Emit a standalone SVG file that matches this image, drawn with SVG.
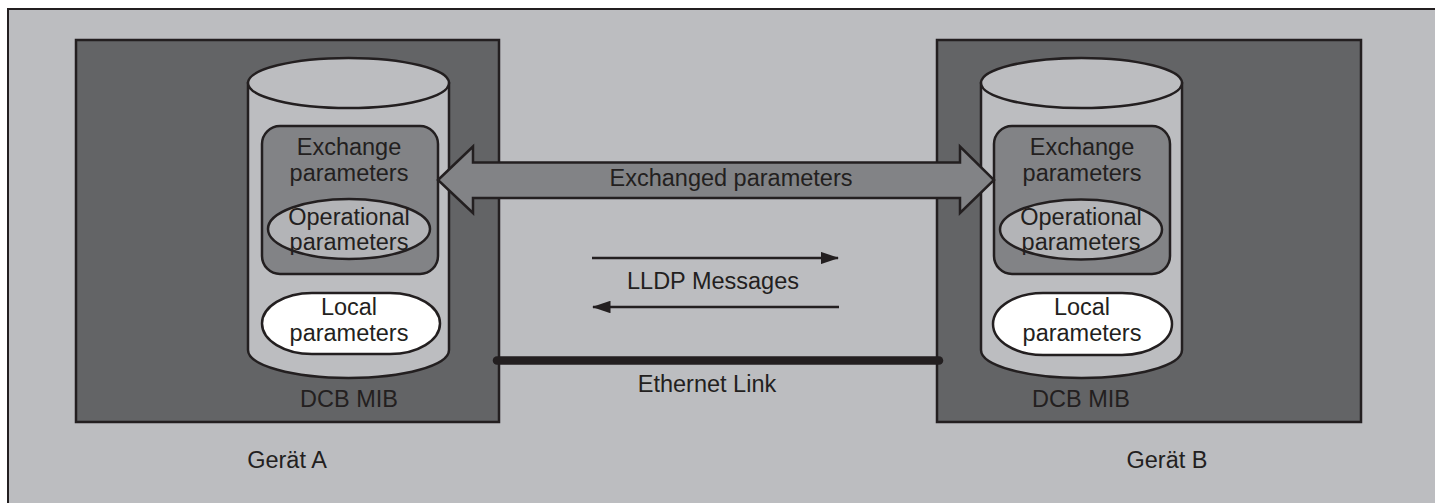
<svg xmlns="http://www.w3.org/2000/svg" width="1435" height="503" viewBox="0 0 1435 503">
  <style>
    .lbl { font-family: "Liberation Sans", Arial, Helvetica, sans-serif; font-size: 23.5px; fill: #231f20; text-anchor: middle; }
    .device { fill: #636466; stroke: #231f20; stroke-width: 2.5; }
    .cyl { fill: #bcbdc0; stroke: #231f20; stroke-width: 2.5; }
    .xchg { fill: #828386; stroke: #231f20; stroke-width: 2.5; }
    .oper { fill: #b3b4b7; stroke: #231f20; stroke-width: 2.5; }
    .local { fill: #ffffff; stroke: #231f20; stroke-width: 2.5; }
    .fat { fill: #828386; stroke: #231f20; stroke-width: 2.5; stroke-linejoin: miter; }
    .msg { stroke: #231f20; stroke-width: 2.5; fill: none; }
  </style>
  <defs>
    <!-- filled triangular head, about 18 x 12 px at a 2.5 px stroke -->
    <marker id="head" viewBox="0 0 15 10" refX="14" refY="5" markerWidth="7.5" markerHeight="5" markerUnits="strokeWidth" orient="auto-start-reverse">
      <path d="M0,0 L15,5 L0,10 Z" fill="#231f20"/>
    </marker>
  </defs>

  <!-- frame -->
  <rect x="8" y="9" width="1440" height="500" fill="#bcbdc0" stroke="#231f20" stroke-width="2"/>

  <!-- device A -->
  <g id="device-a">
    <rect class="device" x="76" y="40" width="423" height="382"/>
    <text class="lbl" x="287" y="468">Gerät A</text>
  </g>

  <!-- device B -->
  <g id="device-b">
    <rect class="device" x="937" y="40" width="424" height="382"/>
    <text class="lbl" x="1167" y="468">Gerät B</text>
  </g>

  <!-- DCB MIB store A -->
  <g id="mib-a">
    <path class="cyl" d="M248,83 L248,350 A100.5,28 0 0 0 449,350 L449,83 Z"/>
    <ellipse class="cyl" cx="348.5" cy="83" rx="100.5" ry="25"/>
    <text class="lbl" x="349" y="407">DCB MIB</text>
  </g>
  <g id="exchange-a">
    <rect class="xchg" x="262" y="126" width="176" height="148" rx="18" ry="18"/>
    <text class="lbl" x="349" y="155">Exchange</text>
    <text class="lbl" x="349" y="181">parameters</text>
  </g>
  <g id="operational-a">
    <ellipse class="oper" cx="349" cy="229" rx="81" ry="30"/>
    <text class="lbl" x="349" y="225">Operational</text>
    <text class="lbl" x="349" y="250">parameters</text>
  </g>
  <g id="local-a">
    <rect class="local" x="262" y="293" width="178" height="61" rx="50" ry="30.5"/>
    <text class="lbl" x="349" y="315">Local</text>
    <text class="lbl" x="349" y="341">parameters</text>
  </g>

  <!-- DCB MIB store B -->
  <g id="mib-b">
    <path class="cyl" d="M981,83 L981,350 A100.5,28 0 0 0 1182,350 L1182,83 Z"/>
    <ellipse class="cyl" cx="1081.5" cy="83" rx="100.5" ry="25"/>
    <text class="lbl" x="1081" y="407">DCB MIB</text>
  </g>
  <g id="exchange-b">
    <rect class="xchg" x="994" y="126" width="176" height="148" rx="18" ry="18"/>
    <text class="lbl" x="1082" y="155">Exchange</text>
    <text class="lbl" x="1082" y="181">parameters</text>
  </g>
  <g id="operational-b">
    <ellipse class="oper" cx="1081" cy="229.5" rx="81" ry="30"/>
    <text class="lbl" x="1081" y="225">Operational</text>
    <text class="lbl" x="1081" y="250">parameters</text>
  </g>
  <g id="local-b">
    <rect class="local" x="993" y="293" width="179" height="62" rx="50" ry="31"/>
    <text class="lbl" x="1082" y="315">Local</text>
    <text class="lbl" x="1082" y="341">parameters</text>
  </g>

  <!-- connectors -->
  <g id="connectors">
    <path class="fat" d="M438,180 L473,146.5 L473,162.5 L960,162.5 L960,146.5 L994,180 L960,213 L960,198 L473,198 L473,213 Z"/>
    <text class="lbl" x="731" y="186">Exchanged parameters</text>

    <line class="msg" x1="592" y1="258" x2="838" y2="258" marker-end="url(#head)"/>
    <line class="msg" x1="593" y1="307" x2="839" y2="307" marker-start="url(#head)"/>
    <text class="lbl" x="713" y="289">LLDP Messages</text>

    <line x1="497" y1="360.5" x2="939" y2="360.5" stroke="#231f20" stroke-width="8.5" stroke-linecap="round"/>
    <text class="lbl" x="707" y="392">Ethernet Link</text>
  </g>
</svg>
